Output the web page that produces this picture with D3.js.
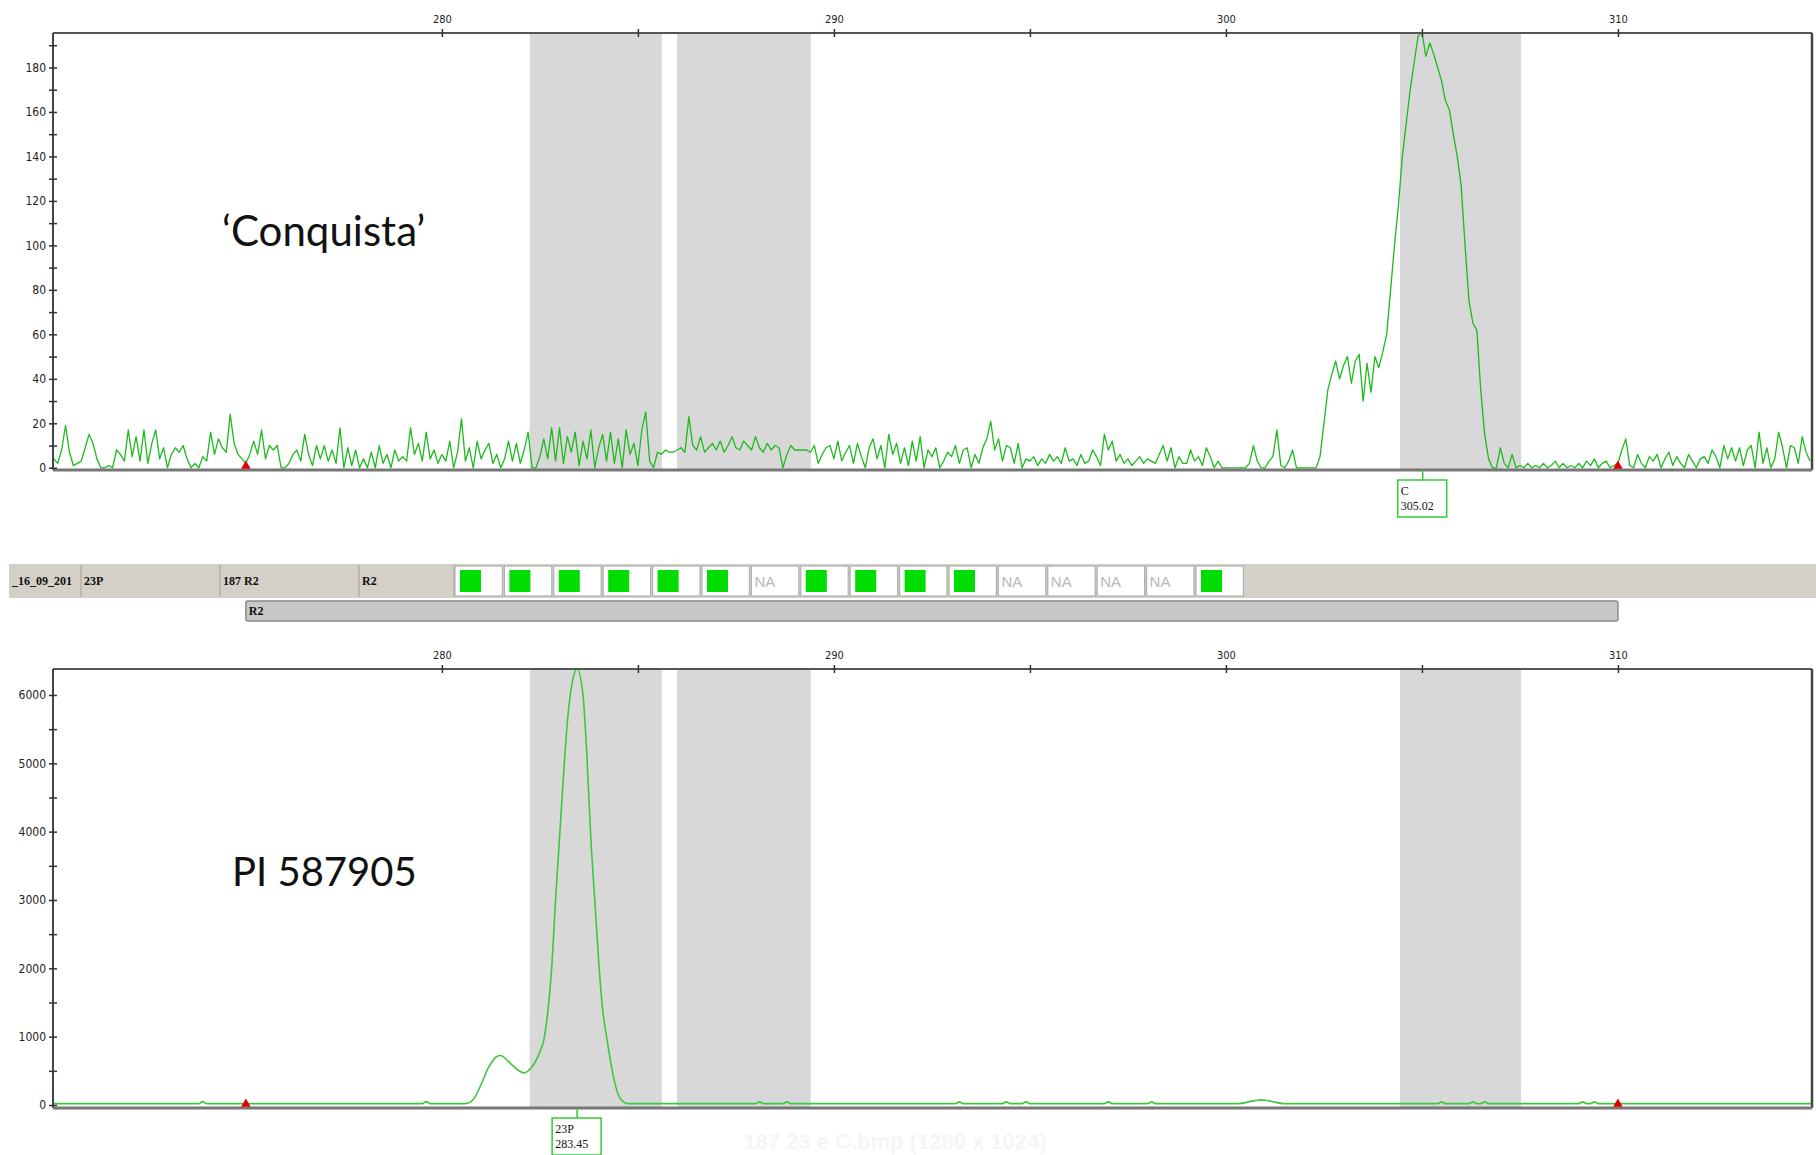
<!DOCTYPE html>
<html>
<head>
<meta charset="utf-8">
<script src="https://cdn.jsdelivr.net/npm/d3@7"></script>
<style>
  body { margin: 0; background: #fff; }
  svg { display: block; }
  .axis .tick text { font-family: "Liberation Sans Narrow", "DejaVu Sans Condensed", "Liberation Sans", sans-serif; font-size: 12px; fill: #222; }
  .axis .domain { display: none; }
  .axis .tick line { stroke: #333; stroke-width: 1.5; }
</style>
</head>
<body>
<svg id="chart" width="1816" height="1155"></svg>
<script>
// ---- data ----

// upper trace ('Conquista'), one reading every 0.1 bp from 270.0
var topStart = 270.0, topStep = 0.1;
var topSignal = [
  5,4,2,8,19,7,1,2,3,9,        // 270
  15,11,4,0,0,1,0,8,6,3,       // 271
  17,5,14,3,17,2,11,17,4,9,    // 272
  0,6,9,7,10,4,0,2,0,5,        // 273
  3,16,6,13,9,7,24,11,6,4,     // 274
  2,6,12,6,17,4,10,8,10,0,     // 275
  0,2,6,8,3,15,6,1,10,4,       // 276
  10,3,8,2,18,0,9,1,8,0,       // 277
  4,0,7,0,10,2,6,0,8,3,        // 278
  5,3,18,6,11,3,16,4,8,2,      // 279
  6,3,12,0,7,22,3,9,0,12,      // 280
  4,8,11,2,6,0,4,12,3,11,      // 281
  2,8,16,0,0,5,13,4,18,3,      // 282
  18,2,14,7,16,1,12,4,17,0,    // 283
  9,15,3,16,2,13,0,17,6,11,    // 284
  1,17,25,3,0,7,6,8,7,7,       // 285
  8,9,7,23,10,8,14,7,9,11,     // 286
  8,12,7,10,14,9,8,12,10,8,    // 287
  14,9,7,11,8,10,9,0,6,10,     // 288
  8,8,8,8,7,10,2,6,9,10,       // 289
  4,12,3,7,10,2,11,5,0,9,      // 290
  13,4,10,0,15,6,11,2,9,1,     // 291
  12,3,14,0,8,5,9,0,3,7,       // 292
  5,10,2,8,9,0,6,2,9,13,       // 293
  21,8,13,3,10,9,2,11,0,4,     // 294
  3,5,1,4,2,6,3,5,2,9,         // 295
  3,4,1,6,2,3,8,5,1,15,        // 296
  8,12,3,6,2,4,1,3,5,2,        // 297
  4,3,2,6,10,3,9,0,5,2,        // 298
  2,8,3,5,1,9,5,0,3,0,         // 299
  0,0,0,0,0,0,2,10,3,0,        // 300
  0,3,5,17,1,0,3,8,0,0,        // 301
  0,0,0,0,5,20,35,42,48,40,    // 302
  46,50,38,48,51,30,47,34,50,45, // 303
  52,60,80,100,118,140,155,170,182,194, // 304
  196,185,191,186,180,174,165,161,150,140, // 305
  127,100,75,65,62,35,15,4,0,0,  // 306
  9,2,0,6,0,1,0,2,0,1,         // 307
  0,2,0,1,3,0,2,0,1,0,         // 308
  2,0,3,1,4,0,2,3,0,1,         // 309
  2,8,13,1,0,6,2,0,5,3,        // 310
  6,0,4,7,1,5,2,0,6,3,         // 311
  0,4,5,2,8,5,0,10,4,9,        // 312
  3,9,1,8,10,0,16,2,9,0,       // 313
  4,16,9,0,10,9,2,14,7,3       // 314
];

// lower trace (PI 587905)
var bottomSizes = [270.0, 273.8, 273.9, 274.0, 279.5, 279.6, 279.7,
  280.6, 280.8, 281.0, 281.2, 281.4, 281.5, 281.6, 281.8, 282.0, 282.1, 282.2, 282.3,
  282.4, 282.5, 282.6, 282.7, 282.8, 282.9, 283.0, 283.1, 283.2, 283.3, 283.45,
  283.6, 283.7, 283.8, 283.9, 284.0, 284.1, 284.2, 284.3, 284.4, 284.5, 284.6, 284.75,
  288.0, 288.1, 288.2, 288.7, 288.8, 288.9, 293.1, 293.2, 293.3, 294.3, 294.4, 294.5,
  294.8, 294.9, 295.0, 296.9, 297.0, 297.1, 298.0, 298.1, 298.2,
  300.3, 300.7, 300.9, 301.1, 301.5, 305.4, 305.5, 305.6, 306.2, 306.3, 306.4,
  306.5, 306.6, 306.7, 309.0, 309.1, 309.2, 309.3, 309.4, 309.5, 315.0];
var bottomSignal = [20, 20, 50, 20, 20, 50, 20,
  20, 80, 300, 560, 710, 725, 690, 580, 490, 470, 500, 560,
  650, 780, 950, 1350, 2000, 3000, 3900, 4800, 5600, 6100, 6380,
  6000, 5100, 3900, 3000, 2100, 1400, 1000, 650, 350, 150, 60, 20,
  20, 45, 20, 20, 45, 20, 20, 45, 20, 20, 45, 20,
  20, 45, 20, 20, 45, 20, 20, 45, 20,
  20, 60, 75, 60, 20, 20, 45, 20, 20, 45, 20,
  20, 45, 20, 20, 45, 20, 20, 45, 20, 20];

// bins (grey bands), in bp
var bins = [[282.24, 285.61], [286.0, 289.41], [304.44, 307.53]];

// axis ticks
var sizeMajor = [280, 290, 300, 310];
var sizeMinor = [285, 295, 305];
var topMajor = [0, 20, 40, 60, 80, 100, 120, 140, 160, 180];
var topMinor = [10, 30, 50, 70, 90, 110, 130, 150, 170, 190];
var botMajor = [0, 1000, 2000, 3000, 4000, 5000, 6000];
var botMinor = [500, 1500, 2500, 3500, 4500, 5500];

// size standard markers
var markers = [275, 310];

// called peaks
var topPeak = { allele: "C", size: 305.02 };
var botPeak = { allele: "23P", size: 283.45 };

// genotype strip
var stripLabels = ["_16_09_201", "23P", "187 R2", "R2"];
var alleleCalls = ["G","G","G","G","G","G","NA","G","G","G","G","NA","NA","NA","NA","G"];
var panelName = "R2";
var panelRange = [275, 310];

// ---- layout ----
var svg = d3.select("#chart");
var X0 = 53, X1 = 1812;
var x = d3.scaleLinear().domain([270.08, 314.95]).range([X0, X1]);

var topP = { y0: 33, y1: 470 };
var botP = { y0: 669, y1: 1108 };
var yTop = d3.scaleLinear().domain([-1, 195.5]).range([topP.y1, topP.y0]);
var yBot = d3.scaleLinear().domain([-44, 6380]).range([botP.y1, botP.y0]);

var green = "#1cba1c";

function drawPanel(p, y, major, minor, series, lineColor, lineWidth, curve, peak, id) {
  var g = svg.append("g");

  g.append("clipPath").attr("id", id)
    .append("rect").attr("x", X0).attr("y", p.y0 - 1)
    .attr("width", X1 - X0).attr("height", p.y1 - p.y0 + 1);

  // bins
  g.selectAll("rect.bin").data(bins).enter().append("rect")
    .attr("class", "bin")
    .attr("x", function(d) { return x(d[0]); })
    .attr("width", function(d) { return x(d[1]) - x(d[0]); })
    .attr("y", p.y0).attr("height", p.y1 - p.y0)
    .attr("fill", "#d8d8d8");

  // trace
  var line = d3.line()
    .x(function(d) { return x(d[0]); })
    .y(function(d) { return y(d[1]); })
    .curve(curve);
  g.append("path").datum(series)
    .attr("clip-path", "url(#" + id + ")")
    .attr("d", line)
    .attr("fill", "none")
    .attr("stroke", lineColor)
    .attr("stroke-width", lineWidth)
    .attr("stroke-linejoin", "round");

  // frame
  g.append("line").attr("x1", X0).attr("x2", X1).attr("y1", p.y0).attr("y2", p.y0)
    .attr("stroke", "#555").attr("stroke-width", 2);
  g.append("line").attr("x1", X0).attr("x2", X0).attr("y1", p.y0).attr("y2", p.y1)
    .attr("stroke", "#444").attr("stroke-width", 2);
  g.append("line").attr("x1", X1).attr("x2", X1).attr("y1", p.y0).attr("y2", p.y1)
    .attr("stroke", "#444").attr("stroke-width", 2.5);
  g.append("line").attr("x1", X0).attr("x2", X1).attr("y1", p.y1).attr("y2", p.y1)
    .attr("stroke", "#777").attr("stroke-width", 3);

  // y axis: labelled ticks and minor ticks, both crossing the axis line
  g.append("g").attr("class", "axis").attr("transform", "translate(" + X0 + ",0)")
    .call(d3.axisLeft(y).tickValues(major).tickSize(4).tickPadding(3).tickFormat(d3.format("d")));
  g.append("g").attr("class", "axis").attr("transform", "translate(" + X0 + ",0)")
    .call(d3.axisLeft(y).tickValues(minor).tickSize(4).tickFormat(""));
  g.selectAll(".axis .tick line").attr("x2", -4).attr("x1", 4);

  // x axis on top
  var xa = g.append("g").attr("class", "axis").attr("transform", "translate(0," + p.y0 + ")")
    .call(d3.axisTop(x).tickValues(sizeMajor).tickSize(4).tickPadding(6).tickFormat(d3.format("d")));
  xa.selectAll(".tick text").style("font-size", "11px");
  var xm = g.append("g").attr("class", "axis").attr("transform", "translate(0," + p.y0 + ")")
    .call(d3.axisTop(x).tickValues(sizeMinor).tickSize(4).tickFormat(""));
  xa.selectAll(".tick line").attr("y1", 4).attr("y2", -4);
  xm.selectAll(".tick line").attr("y1", 4).attr("y2", -4);

  // size standard markers
  g.selectAll("path.mark").data(markers).enter().append("path")
    .attr("class", "mark")
    .attr("d", d3.symbol().type(d3.symbolTriangle).size(40))
    .attr("transform", function(d) { return "translate(" + x(d) + "," + (p.y1 - 4) + ")"; })
    .attr("fill", "#e00000");

  // peak label
  var px = x(peak.size);
  g.append("line").attr("x1", px).attr("x2", px).attr("y1", p.y1).attr("y2", p.y1 + 10)
    .attr("stroke", "#3c3").attr("stroke-width", 1.5);
  g.append("rect").attr("x", px - 25).attr("y", p.y1 + 10).attr("width", 49).attr("height", 37)
    .attr("fill", "#fff").attr("stroke", "#3c3").attr("stroke-width", 1.5);
  var t = g.append("text").attr("x", px - 22).attr("y", p.y1 + 25)
    .style("font-family", "'Liberation Serif', serif").style("font-size", "12px").attr("fill", "#111");
  t.append("tspan").text(peak.allele);
  t.append("tspan").attr("x", px - 22).attr("dy", 15).text(peak.size.toFixed(2));
}

var topSeries = topSignal.map(function(v, i) { return [topStart + i * topStep, v]; });
var botSeries = bottomSizes.map(function(s, i) { return [s, bottomSignal[i]]; });

drawPanel(topP, yTop, topMajor, topMinor, topSeries, green, 1.3, d3.curveLinear, topPeak, "clipTop");
drawPanel(botP, yBot, botMajor, botMinor, botSeries, "#3cc83c", 1.6, d3.curveMonotoneX, botPeak, "clipBot");

// sample names
svg.append("text").attr("x", 222).attr("y", 246).text("\u2018Conquista\u2019")
  .style("font-family", "Lato, 'Open Sans', sans-serif").style("font-size", "42px").attr("fill", "#111");
svg.append("text").attr("x", 232).attr("y", 886).text("PI 587905")
  .style("font-family", "Lato, 'Open Sans', sans-serif").style("font-size", "40px").attr("fill", "#111");

// ---- genotype strip ----
var strip = svg.append("g");
strip.append("rect").attr("x", 9).attr("y", 564).attr("width", 1816 - 9).attr("height", 34)
  .attr("fill", "#d4d0c8");
var colEdges = [9, 81, 220, 359, 454];
strip.selectAll("line.sep").data(colEdges.slice(1)).enter().append("line")
  .attr("x1", function(d) { return d; }).attr("x2", function(d) { return d; })
  .attr("y1", 565).attr("y2", 597).attr("stroke", "#bdb9b1").attr("stroke-width", 2);
strip.selectAll("text.lab").data(stripLabels).enter().append("text")
  .attr("x", function(d, i) { return colEdges[i] + 3; })
  .attr("y", 585)
  .text(function(d) { return d; })
  .style("font-family", "'Liberation Serif', serif").style("font-weight", "bold")
  .style("font-size", "12px").attr("fill", "#111");

var cellW = 49.4, cellX = 454;
var cells = strip.selectAll("g.cell").data(alleleCalls).enter().append("g")
  .attr("transform", function(d, i) { return "translate(" + (cellX + i * cellW) + ",566)"; });
cells.append("rect").attr("x", 1).attr("y", 0).attr("width", cellW - 2).attr("height", 30)
  .attr("fill", "#fff").attr("stroke", "#b0b0b0").attr("stroke-width", 1.2);
cells.filter(function(d) { return d === "G"; }).append("rect")
  .attr("x", 6).attr("y", 4).attr("width", 21).attr("height", 22).attr("fill", "#00dd00");
cells.filter(function(d) { return d === "NA"; }).append("text")
  .attr("x", 4).attr("y", 21).text("NA")
  .style("font-family", "'Liberation Sans Narrow', 'Liberation Sans', sans-serif")
  .style("font-size", "15px").attr("fill", "#b8b8b8");

// panel bar
strip.append("rect").attr("x", x(panelRange[0])).attr("y", 601)
  .attr("width", x(panelRange[1]) - x(panelRange[0])).attr("height", 20).attr("rx", 2)
  .attr("fill", "#c8c8c8").attr("stroke", "#8a8a8a").attr("stroke-width", 1.5);
strip.append("text").attr("x", x(panelRange[0]) + 3).attr("y", 615).text(panelName)
  .style("font-family", "'Liberation Serif', serif").style("font-weight", "bold")
  .style("font-size", "12px").attr("fill", "#111");

// faint file-name watermark
svg.append("text").attr("x", 895).attr("y", 1149).attr("text-anchor", "middle")
  .text("187 23 e C.bmp (1280 x 1024)")
  .style("font-family", "'Liberation Sans', sans-serif").style("font-weight", "bold")
  .style("font-size", "22px").attr("fill", "#f5f5f5");
</script>
</body>
</html>
